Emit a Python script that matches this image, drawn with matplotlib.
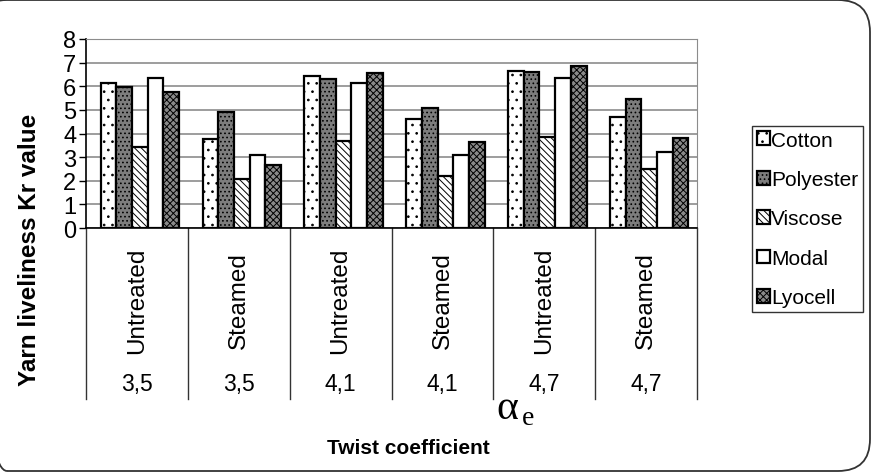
import matplotlib.pyplot as plt
import numpy as np
from matplotlib.patches import FancyBboxPatch

# data
treatments = ['Untreated', 'Steamed', 'Untreated', 'Steamed', 'Untreated', 'Steamed']
twist = ['3,5', '3,5', '4,1', '4,1', '4,7', '4,7']
fibres = ['Cotton', 'Polyester', 'Viscose', 'Modal', 'Lyocell']
cotton = [6.15, 3.75, 6.42, 4.62, 6.64, 4.68]
polyester = [5.95, 4.92, 6.30, 5.08, 6.59, 5.47]
viscose = [3.43, 2.07, 3.70, 2.22, 3.84, 2.48]
modal = [6.35, 3.07, 6.12, 3.09, 6.34, 3.21]
lyocell = [5.75, 2.68, 6.58, 3.66, 6.86, 3.83]

plt.rcParams['font.family'] = ['Liberation Sans', 'DejaVu Sans']
plt.rcParams['hatch.linewidth'] = 0.7

W, H = 877, 477
fig = plt.figure(figsize=(W / 100, H / 100), dpi=100)

# rounded frame around the chart (left edge runs off the picture)
frame = FancyBboxPatch((-25, 5), 895, 471, boxstyle='round,pad=0,rounding_size=32',
                       transform=None, facecolor='none', edgecolor='#333333', lw=1.3)
fig.patches.append(frame)

ax = fig.add_axes([86 / W, 1 - 229 / H, 611 / W, 189 / H])

series = [cotton, polyester, viscose, modal, lyocell]
faces = ['white', '#7d7d7d', 'white', 'white', '#8a8a8a']
hatches = ['..', '....', '\\\\\\\\\\', '', 'xxxxx']
x = np.arange(len(treatments))
bw = 0.154
for i, (vals, fc, h) in enumerate(zip(series, faces, hatches)):
    ax.bar(x + (i - 2) * bw + 0.03, vals, bw, color=fc, hatch=h, edgecolor='black',
           linewidth=1.6, label=fibres[i], zorder=3)

ax.set_xlim(-0.5, 5.5)
ax.set_ylim(0, 8)
ax.set_yticks(range(9))
ax.tick_params(axis='y', labelsize=17, length=5, width=1, direction='out', pad=2)
ax.set_xticks([])
ax.yaxis.grid(True, color='#8c8c8c', lw=1.2, zorder=0)
ax.spines['top'].set_color('#8c8c8c')
ax.spines['right'].set_color('#8c8c8c')
ax.spines['left'].set_linewidth(1.2)
ax.spines['bottom'].set_linewidth(1.2)

# two-level category labels below the axis
tr = ax.get_xaxis_transform()
for k in range(len(treatments) + 1):
    ax.plot([k - 0.5, k - 0.5], [0, -0.905], transform=tr, color='#333333', lw=1, clip_on=False)
for k, (t, tw) in enumerate(zip(treatments, twist)):
    ax.text(k, -0.38, t, transform=tr, rotation=90, ha='center', va='center', fontsize=17.5)
    ax.text(k, -0.825, tw, transform=tr, ha='center', va='center', fontsize=16.5)

fig.text(30 / W, 1 - 250 / H, 'Yarn liveliness Kr value', rotation=90, ha='center',
         va='center', fontsize=17.5, fontweight='bold')
fig.text(408 / W, 1 - 448 / H, 'Twist coefficient', ha='center', va='center',
         fontsize=15, fontweight='bold')
fig.text(496 / W, 1 - 409 / H, 'α', ha='left', va='center', fontsize=30,
         family='Liberation Serif')
fig.text(522 / W, 1 - 419 / H, 'e', ha='left', va='center', fontsize=20,
         family='Liberation Serif')

fig.legend(loc='upper left', bbox_to_anchor=(752 / W, 1 - 127 / H), borderaxespad=0,
           fontsize=15, frameon=True, fancybox=False, edgecolor='black',
           handlelength=0.65, handleheight=0.65, handletextpad=0.06, labelspacing=0.98,
           borderpad=0.22)

fig.savefig('out.png', dpi=100)
